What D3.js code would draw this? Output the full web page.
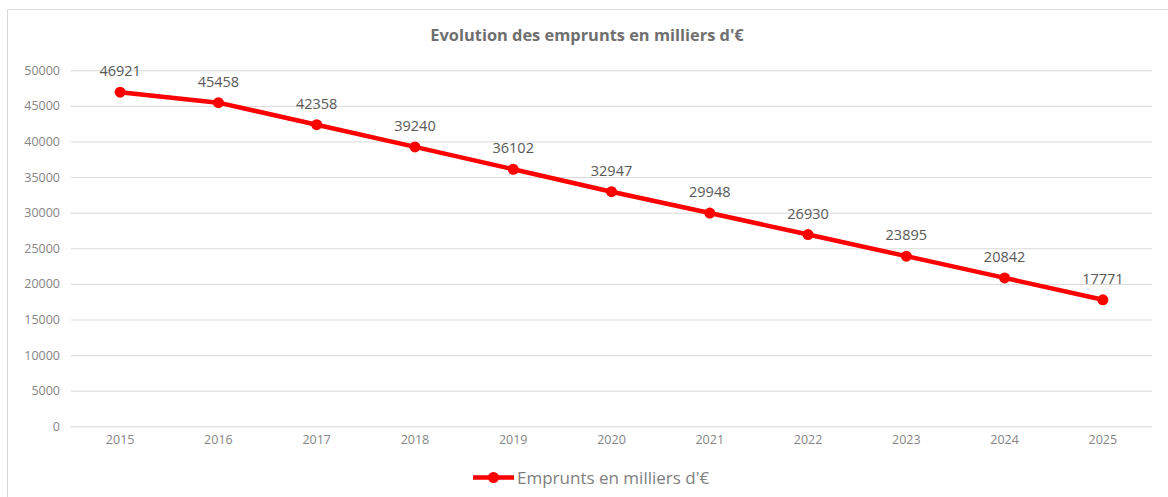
<!DOCTYPE html>
<html>
<head>
<meta charset="utf-8">
<script src="https://cdn.jsdelivr.net/npm/d3@7"></script>
<style>
  body { margin: 0; background: #fff; }
  text { font-family: "Open Sans", "Lato", sans-serif; }
</style>
</head>
<body>
<div id="chart"></div>
<script>
// data
var years = ["2015", "2016", "2017", "2018", "2019", "2020", "2021", "2022", "2023", "2024", "2025"];
var emprunts = [46921, 45458, 42358, 39240, 36102, 32947, 29948, 26930, 23895, 20842, 17771];
var yTicks = [0, 5000, 10000, 15000, 20000, 25000, 30000, 35000, 40000, 45000, 50000];
var titre = "Evolution des emprunts en milliers d'€";
var serie = "Emprunts en milliers d'€";

var width = 1168, height = 497;
var plotLeft = 71, plotRight = 1152, plotTop = 70.3, plotBottom = 426.3;

var svg = d3.select("#chart")
  .append("svg")
  .attr("width", width)
  .attr("height", height);

// frame of the chart (runs off the picture right and bottom)
svg.append("rect")
  .attr("x", 7.5).attr("y", 9.5)
  .attr("width", 1200).attr("height", 600)
  .attr("fill", "#fff")
  .attr("stroke", "#d9d9d9");

var x = d3.scaleBand().domain(years).range([plotLeft, plotRight]);
var y = d3.scaleLinear().domain([0, 50000]).range([plotBottom, plotTop]);

// gridlines + y labels
var yAxis = d3.axisLeft(y).tickValues(yTicks).tickSize(-(plotRight - plotLeft)).tickPadding(11).tickFormat(d3.format("d"));
var gy = svg.append("g").attr("transform", "translate(" + plotLeft + ",0)").call(yAxis);
gy.select(".domain").remove();
gy.selectAll("line").attr("stroke", "#d9d9d9").attr("stroke-width", 1);
gy.selectAll("text").attr("fill", "#858585").attr("font-size", "12.5px");

// x labels
var xAxis = d3.axisBottom(x).tickSize(0).tickPadding(9);
var gx = svg.append("g").attr("transform", "translate(0," + plotBottom + ")").call(xAxis);
gx.select(".domain").remove();
gx.selectAll("text").attr("fill", "#858585").attr("font-size", "12.5px");

// title
svg.append("text")
  .attr("x", 587).attr("y", 41)
  .attr("text-anchor", "middle")
  .attr("font-size", "16.4px")
  .attr("font-weight", "bold")
  .attr("fill", "#6f6f6f")
  .text(titre);

var cx = function(d, i) { return x(years[i]) + x.bandwidth() / 2; };

// the line
var line = d3.line()
  .x(function(d, i) { return cx(d, i); })
  .y(function(d) { return y(d); });

svg.append("path")
  .datum(emprunts)
  .attr("d", line)
  .attr("fill", "none")
  .attr("stroke", "#ff0000")
  .attr("stroke-width", 4.5)
  .attr("stroke-linejoin", "round");

svg.selectAll("circle.pt")
  .data(emprunts)
  .enter()
  .append("circle")
  .attr("class", "pt")
  .attr("cx", cx)
  .attr("cy", function(d) { return y(d); })
  .attr("r", 5.5)
  .attr("fill", "#ff0000");

// data labels
svg.selectAll("text.lbl")
  .data(emprunts)
  .enter()
  .append("text")
  .attr("class", "lbl")
  .attr("x", cx)
  .attr("y", function(d) { return y(d) - 16; })
  .attr("text-anchor", "middle")
  .attr("font-size", "14.5px")
  .attr("fill", "#595959")
  .text(function(d) { return d; });

// legend
var lg = svg.append("g").attr("transform", "translate(473,477.5)");
lg.append("line")
  .attr("x1", 0).attr("x2", 41)
  .attr("stroke", "#ff0000").attr("stroke-width", 4.5);
lg.append("circle").attr("cx", 20.5).attr("r", 5.5).attr("fill", "#ff0000");
lg.append("text")
  .attr("x", 44).attr("y", 6)
  .attr("font-size", "17px")
  .attr("fill", "#808080")
  .text(serie);
</script>
</body>
</html>
